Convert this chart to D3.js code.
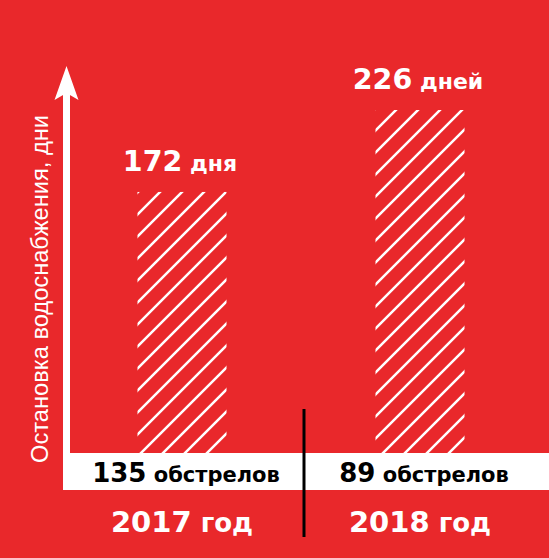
<!DOCTYPE html>
<html>
<head>
<meta charset="utf-8">
<script src="https://cdn.jsdelivr.net/npm/d3@7"></script>
<style>
  html, body { margin: 0; padding: 0; background: #e9282b; }
  svg { display: block; }
</style>
</head>
<body>
<svg id="drawing_region"></svg>
<script>
// chart data
const years = ['2017', '2018'];
const yearUnit = 'год';
const days = [172, 226];
const dayUnits = ['дня', 'дней'];
const shellings = [135, 89];
const shellUnit = 'обстрелов';
const axisTitle = 'Остановка водоснабжения, дни';

const data = years.map((y, i) => ({
    year: y, days: days[i], unit: dayUnits[i], shell: shellings[i]
}));

const width = 549, height = 558;
const red = '#e9282b';
const bold = '"DejaVu Sans", Verdana, sans-serif';

const svg = d3.select('#drawing_region')
    .attr('width', width)
    .attr('height', height);

svg.append('rect')
    .attr('width', width).attr('height', height)
    .attr('fill', red);

// hatch pattern for bars
const pat = svg.append('defs').append('pattern')
    .attr('id', 'hatch')
    .attr('patternUnits', 'userSpaceOnUse')
    .attr('width', 22).attr('height', 22);
pat.append('path')
    .attr('d', 'M-5.5,5.5 L5.5,-5.5 M0,22 L22,0 M16.5,27.5 L27.5,16.5')
    .attr('stroke', '#fff')
    .attr('stroke-width', 2.5);

const xscale = d3.scaleBand()
    .domain(years)
    .range([63, 539])
    .paddingInner(0.626)
    .paddingOuter(0.313);

const baseY = 453;
const yscale = d3.scaleLinear()
    .domain([0, d3.max(days)])
    .range([baseY, 110]);

// bars
svg.selectAll('rect.bar')
    .data(data)
    .join('rect')
    .attr('class', 'bar')
    .attr('x', d => xscale(d.year))
    .attr('y', d => yscale(d.days))
    .attr('width', xscale.bandwidth())
    .attr('height', d => baseY - yscale(d.days))
    .attr('fill', 'url(#hatch)');

// value labels
const vl = svg.selectAll('text.value')
    .data(data)
    .join('text')
    .attr('class', 'value')
    .attr('x', d => xscale(d.year) + xscale.bandwidth() / 2 - 2)
    .attr('y', d => yscale(d.days) - 21)
    .attr('text-anchor', 'middle')
    .attr('fill', '#fff')
    .attr('font-family', bold)
    .attr('font-weight', 'bold');
vl.append('tspan').attr('font-size', 28.5).text(d => d.days);
vl.append('tspan').attr('font-size', 22).text(d => ' ' + d.unit);

// white band with shelling counts
svg.append('rect')
    .attr('x', 63).attr('y', baseY)
    .attr('width', width - 63).attr('height', 37)
    .attr('fill', '#fff');

const sl = svg.selectAll('text.shell')
    .data(data)
    .join('text')
    .attr('class', 'shell')
    .attr('x', d => xscale(d.year) + xscale.bandwidth() / 2 + 4)
    .attr('y', 482)
    .attr('text-anchor', 'middle')
    .attr('fill', '#000')
    .attr('font-family', bold)
    .attr('font-weight', 'bold');
sl.append('tspan').attr('font-size', 26).text(d => d.shell);
sl.append('tspan').attr('font-size', 21).text(' ' + shellUnit);

// year labels
const yl = svg.selectAll('text.year')
    .data(data)
    .join('text')
    .attr('class', 'year')
    .attr('x', d => xscale(d.year) + xscale.bandwidth() / 2)
    .attr('y', 532)
    .attr('text-anchor', 'middle')
    .attr('fill', '#fff')
    .attr('font-family', bold)
    .attr('font-weight', 'bold');
yl.append('tspan').attr('font-size', 29).text(d => d.year);
yl.append('tspan').attr('font-size', 26).text(' ' + yearUnit);

// divider between years
svg.append('line')
    .attr('x1', 304).attr('x2', 304)
    .attr('y1', 409).attr('y2', 537)
    .attr('stroke', '#000')
    .attr('stroke-width', 3);

// y axis arrow
svg.append('rect')
    .attr('x', 63).attr('y', 92)
    .attr('width', 7).attr('height', 490 - 92)
    .attr('fill', '#fff');
svg.append('path')
    .attr('d', 'M66.5,66 L78.5,100 L66.5,93 L54.5,100 Z')
    .attr('fill', '#fff');

svg.append('text')
    .attr('transform', 'translate(48,463) rotate(-90)')
    .attr('fill', '#fff')
    .attr('font-family', '"Liberation Sans", Arial, sans-serif')
    .attr('font-size', 23.5)
    .attr('textLength', 348)
    .attr('lengthAdjust', 'spacingAndGlyphs')
    .text(axisTitle);
</script>
</body>
</html>
